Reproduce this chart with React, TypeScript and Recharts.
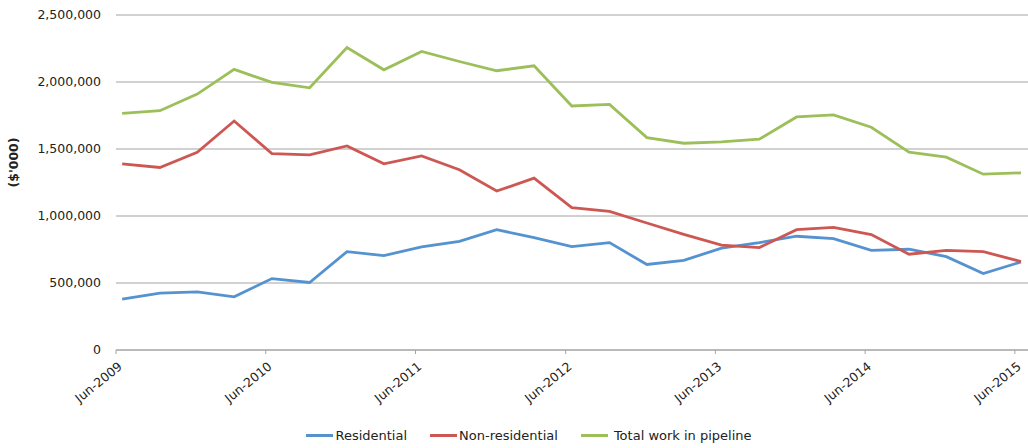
import { LineChart, Line, XAxis, YAxis, CartesianGrid, Legend } from 'recharts';

// quarterly observations, Jun-2009 .. Jun-2015
const quarters = [
    'Jun-2009', 'Sep-2009', 'Dec-2009', 'Mar-2010',
    'Jun-2010', 'Sep-2010', 'Dec-2010', 'Mar-2011',
    'Jun-2011', 'Sep-2011', 'Dec-2011', 'Mar-2012',
    'Jun-2012', 'Sep-2012', 'Dec-2012', 'Mar-2013',
    'Jun-2013', 'Sep-2013', 'Dec-2013', 'Mar-2014',
    'Jun-2014', 'Sep-2014', 'Dec-2014', 'Mar-2015',
    'Jun-2015',
];

const residential = [
    380000, 424000, 434000, 397000,
    533000, 504000, 734000, 705000,
    769000, 811000, 898000, 839000,
    772000, 801000, 638000, 669000,
    760000, 801000, 849000, 831000,
    744000, 752000, 697000, 571000,
    657000,
];

const nonResidential = [
    1389000, 1362000, 1476000, 1709000,
    1466000, 1456000, 1523000, 1389000,
    1449000, 1345000, 1186000, 1283000,
    1062000, 1035000, 948000, 863000,
    782000, 764000, 898000, 915000,
    861000, 715000, 744000, 734000,
    660000,
];

const totalPipeline = [
    1766000, 1786000, 1910000, 2094000,
    1997000, 1957000, 2258000, 2091000,
    2228000, 2153000, 2084000, 2121000,
    1821000, 1833000, 1585000, 1543000,
    1553000, 1573000, 1739000, 1754000,
    1662000, 1476000, 1439000, 1312000,
    1322000,
];

const tickLabels = ['Jun-2009', 'Jun-2010', 'Jun-2011', 'Jun-2012', 'Jun-2013', 'Jun-2014', 'Jun-2015'];
const yTicks = [0, 500000, 1000000, 1500000, 2000000, 2500000];

const MONTHS = ['Jan', 'Feb', 'Mar', 'Apr', 'May', 'Jun', 'Jul', 'Aug', 'Sep', 'Oct', 'Nov', 'Dec'];

// tick at the start of the month, data point mid-month (date axis)
const monthStart = (label: string) => {
    const [m, y] = label.split('-');
    return Date.UTC(Number(y), MONTHS.indexOf(m), 1);
};
const midMonth = (label: string) => {
    const [m, y] = label.split('-');
    return Date.UTC(Number(y), MONTHS.indexOf(m), 16);
};

const series = [
    { key: 'residential', name: 'Residential', color: '#5592d0' },
    { key: 'nonResidential', name: 'Non-residential', color: '#cd5853' },
    { key: 'total', name: 'Total work in pipeline', color: '#9cbf5a' },
];

const chartData = quarters.map((q, i) => ({
    t: midMonth(q),
    residential: residential[i],
    nonResidential: nonResidential[i],
    total: totalPipeline[i],
}));

const xTicks = tickLabels.map(monthStart);
const xDomain = [monthStart('Jun-2009'), Date.UTC(2015, 6, 3)];

const FONT = '"DejaVu Sans", Verdana, sans-serif';

const fmtTick = (t: number) => {
    const d = new Date(t);
    return `${MONTHS[d.getUTCMonth()]}-${d.getUTCFullYear()}`;
};

function XTick({ x, y, payload }: any) {
    return (
        <g transform={`translate(${x + 7},${y + 12})`}>
            <text textAnchor="end" transform="rotate(-39)" fill="#222" fontSize={12.5} fontFamily={FONT}>
                {fmtTick(payload.value)}
            </text>
        </g>
    );
}

function LegendContent() {
    return (
        <div style={{ display: 'flex', justifyContent: 'center', fontFamily: FONT, fontSize: 13, color: '#222', marginLeft: 30 }}>
            {series.map((s, i) => (
                <div key={s.key} style={{ display: 'flex', alignItems: 'center', marginRight: i < series.length - 1 ? 23 : 0 }}>
                    <span style={{ display: 'inline-block', width: 27, height: 3, background: s.color, marginRight: s.key === 'total' ? 6 : 2 }} />
                    <span>{s.name}</span>
                </div>
            ))}
        </div>
    );
}

export default function App() {
    return (
        <div style={{ position: 'absolute', left: 0, top: 0, width: 1028, height: 448, background: '#fff' }}>
            <LineChart width={1028} height={448} data={chartData} margin={{ top: 15, right: 0, left: 0, bottom: 0 }}>
                <CartesianGrid vertical={false} stroke="#a3a3a3" strokeWidth={1.2} />
                <XAxis
                    dataKey="t"
                    type="number"
                    scale="time"
                    domain={xDomain}
                    ticks={xTicks}
                    interval={0}
                    height={70}
                    stroke="#a3a3a3"
                    tickSize={4}
                    tick={<XTick />}
                />
                <YAxis
                    domain={[0, 2500000]}
                    ticks={yTicks}
                    width={116}
                    axisLine={false}
                    tickLine={false}
                    tickMargin={9}
                    tick={{ fill: '#222', fontSize: 12.5, fontFamily: FONT }}
                    tickFormatter={(v: number) => v.toLocaleString('en-US')}
                    label={{ value: "($'000)", angle: -90, position: 'insideLeft', offset: 14, dy: -20, style: { fontFamily: FONT, fontSize: 12.5, fontWeight: 'bold', fill: '#222', textAnchor: 'middle' } }}
                />
                <Legend verticalAlign="bottom" height={28} wrapperStyle={{ top: 428, left: 0, width: 1028 }} content={<LegendContent />} />
                {series.map(s => (
                    <Line
                        key={s.key}
                        type="linear"
                        dataKey={s.key}
                        name={s.name}
                        stroke={s.color}
                        strokeWidth={2.8}
                        dot={false}
                        isAnimationActive={false}
                    />
                ))}
            </LineChart>
        </div>
    );
}
